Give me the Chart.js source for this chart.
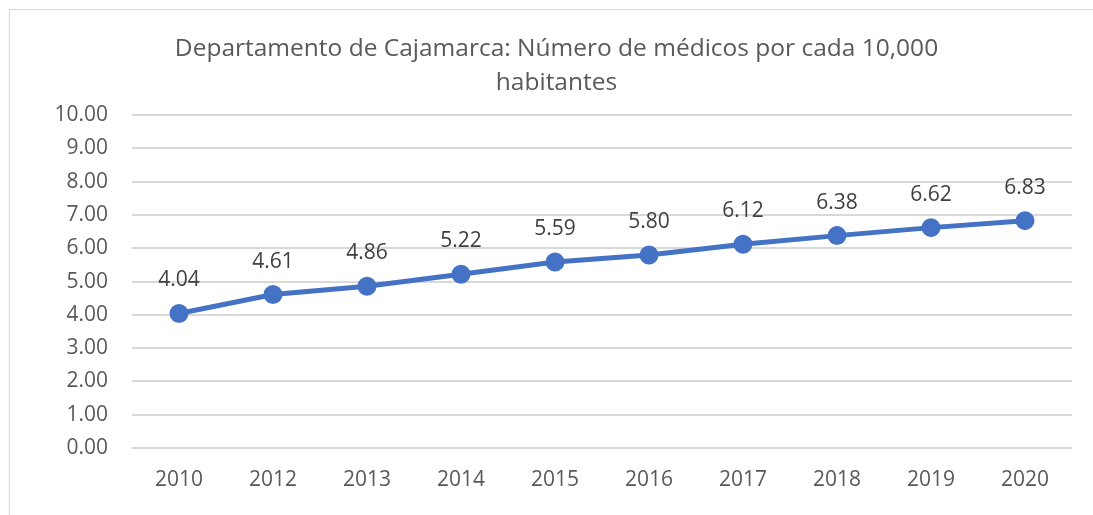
<!DOCTYPE html>
<html>
<head>
<meta charset="utf-8">
<script src="https://cdn.jsdelivr.net/npm/chart.js@4"></script>
<style>
  html, body { margin: 0; padding: 0; background: #fff; overflow: hidden; }
  #frame { position: absolute; left: 9px; top: 9px; width: 1200px; height: 600px; border: 1px solid #d9d9d9; }
  #wrap { position: absolute; left: 0; top: 0; width: 1093px; height: 515px; }
</style>
</head>
<body>
<div id="frame"></div>
<div id="wrap"><canvas id="medChart"></canvas></div>
<script>
var years = ['2010', '2012', '2013', '2014', '2015', '2016', '2017', '2018', '2019', '2020'];
var medicos = [4.04, 4.61, 4.86, 5.22, 5.59, 5.80, 6.12, 6.38, 6.62, 6.83];
var titleLines = ['Departamento de Cajamarca: Número de médicos por cada 10,000', 'habitantes'];

var fontFamily = '"Open Sans", "Noto Sans", sans-serif';

// draw the value above each point (no datalabels plugin available)
var valueLabels = {
    id: 'valueLabels',
    afterDatasetsDraw: function(chart) {
        var ctx = chart.ctx;
        var meta = chart.getDatasetMeta(0);
        ctx.save();
        ctx.font = '21px ' + fontFamily;
        ctx.fillStyle = '#404040';
        ctx.textAlign = 'center';
        ctx.textBaseline = 'middle';
        meta.data.forEach(function(pt, i) {
            ctx.fillText(medicos[i].toFixed(2), pt.x, pt.y - 33);
        });
        ctx.restore();
    }
};

var ctx = document.getElementById('medChart').getContext('2d');
var medChart = new Chart(ctx, {
    type: 'line',
    data: {
        labels: years,
        datasets: [{
            data: medicos,
            borderColor: '#4472C4',
            backgroundColor: '#4472C4',
            borderWidth: 5,
            pointRadius: 7,
            pointHoverRadius: 7,
            tension: 0
        }]
    },
    options: {
        responsive: true,
        maintainAspectRatio: false,
        animation: false,
        layout: { padding: { left: 41, right: 21, top: 0, bottom: 0 } },
        plugins: {
            legend: { display: false },
            tooltip: { enabled: false },
            title: {
                display: true,
                text: titleLines,
                color: '#595959',
                font: { family: fontFamily, size: 24.5, weight: 'normal', lineHeight: 1.39 },
                padding: { top: 32, bottom: 15 }
            }
        },
        scales: {
            x: {
                offset: true,
                grid: { display: false, drawTicks: false },
                border: { display: false },
                ticks: { color: '#595959', padding: 19, font: { family: fontFamily, size: 21 } },
                afterFit: function(scale) { scale.height = 67; }
            },
            y: {
                min: 0,
                max: 10,
                ticks: {
                    stepSize: 1,
                    color: '#595959',
                    padding: 24,
                    font: { family: fontFamily, size: 21 },
                    callback: function(v) { return v.toFixed(2); }
                },
                grid: { color: '#d9d9d9', lineWidth: 2, drawTicks: false },
                border: { display: false },
                afterFit: function(scale) { scale.width = 91; }
            }
        }
    },
    plugins: [valueLabels]
});
</script>
</body>
</html>
